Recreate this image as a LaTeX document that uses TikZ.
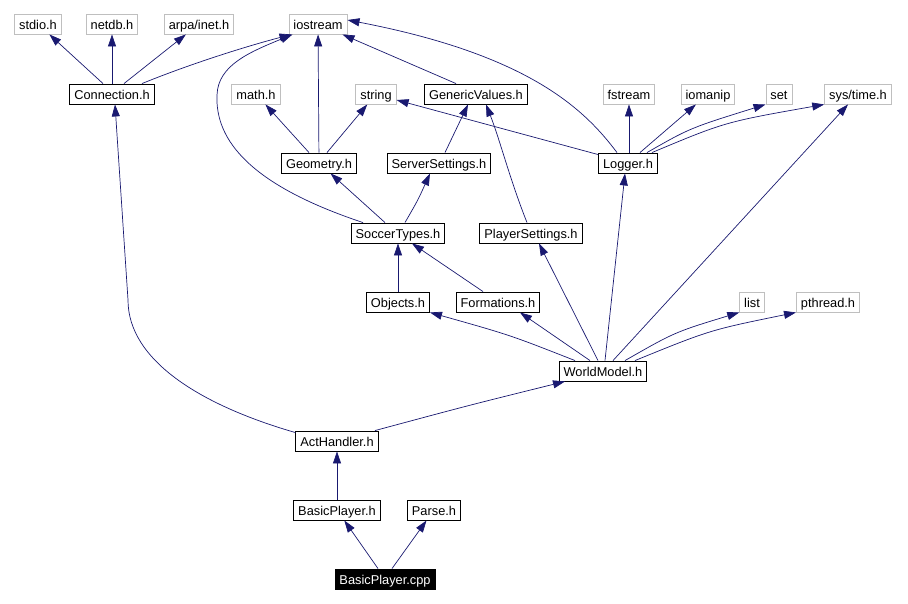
\documentclass[tikz,border=0pt]{standalone}
\usepackage{fontspec}
\setmainfont{Liberation Sans}
\usepackage{tikz}
\usetikzlibrary{arrows.meta, positioning}
\definecolor{midnight}{HTML}{191970}
\definecolor{extgray}{HTML}{BFBFBF}

\begin{document}
\begin{tikzpicture}[
  x=1pt, y=-1pt,
  font=\fontsize{12.8pt}{14pt}\selectfont,
  box/.style={draw=black, line width=0.9pt, fill=white, minimum height=20pt, text height=11.5pt, text depth=0.5pt, inner xsep=4.5pt, inner ysep=0pt, anchor=center},
  ext/.style={box, draw=extgray},
  root/.style={box, fill=black, text=white},
  dep/.style={-{Triangle[length=12pt, width=8pt]}, line width=0.7pt, midnight}
]
  \useasboundingbox (0,0) rectangle (908,603);

  \node[ext] (stdio) at (38,24) {stdio.h};
  \node[ext] (netdb) at (112,24) {netdb.h};
  \node[ext] (arpa) at (199,24) {arpa/inet.h};
  \node[ext] (ios) at (318,24) {iostream};

  \node[box] (conn) at (112,94) {Connection.h};
  \node[ext] (math) at (256,94) {math.h};
  \node[ext] (string) at (376,94) {string};
  \node[box] (gv) at (476,94) {GenericValues.h};
  \node[ext] (fstream) at (629,94) {fstream};
  \node[ext] (iomanip) at (708,94) {iomanip};
  \node[ext] (set) at (779,94) {set};
  \node[ext] (systime) at (858,94) {sys/time.h};

  \node[box] (geom) at (319,163) {Geometry.h};
  \node[box] (ss) at (439,163) {ServerSettings.h};
  \node[box] (log) at (628,163) {Logger.h};

  \node[box] (soccer) at (398,233) {SoccerTypes.h};
  \node[box] (ps) at (531,233) {PlayerSettings.h};

  \node[box] (obj) at (398,302) {Objects.h};
  \node[box] (form) at (498,302) {Formations.h};
  \node[ext] (list) at (752,302) {list};
  \node[ext] (pthread) at (828,302) {pthread.h};

  \node[box] (wm) at (603,371) {WorldModel.h};
  \node[box] (act) at (337,441) {ActHandler.h};
  \node[box] (bp) at (337,510) {BasicPlayer.h};
  \node[box] (parse) at (434,510) {Parse.h};
  \node[root] (cpp) at (385,579) {BasicPlayer.cpp};

  \draw[dep] ([xshift=-9pt]conn.north) -- (stdio);
  \draw[dep] (conn) -- (netdb);
  \draw[dep] ([xshift=12pt]conn.north) -- (arpa);
  \draw[dep] ([xshift=30pt]conn.north) .. controls (185,66) and (240,48) .. ([xshift=3pt]ios.south west);

  \draw[dep] ([xshift=-35pt]soccer.north) .. controls (250,185) and (215,140) .. (217,95)
    .. controls (218,65) and (250,52) .. ([xshift=4pt]ios.south west);
  \draw[dep] (geom) -- (ios);
  \draw[dep] ([xshift=-20pt]gv.north) -- ([xshift=-5pt]ios.south east);
  \draw[dep] ([xshift=-11pt]log.north) .. controls (585,110) and (530,55) .. ([yshift=4pt]ios.east);

  \draw[dep] ([xshift=-10pt]geom.north) -- (math);
  \draw[dep] ([xshift=8pt]geom.north) -- (string);
  \draw[dep] ([yshift=-2pt]log.north west) -- ([yshift=-6pt]string.east);

  \draw[dep] ([xshift=6pt]ss.north) -- ([xshift=-8pt]gv.south);
  \draw[dep] ([xshift=-4pt]ps.north) .. controls (510,180) and (500,140) .. ([xshift=10pt]gv.south);

  \draw[dep] ([xshift=1pt]log.north) -- ([xshift=0pt]fstream.south);
  \draw[dep] ([xshift=12pt]log.north) -- (iomanip);
  \draw[dep] ([xshift=19pt]log.north) .. controls (690,128) .. (set.south west);
  \draw[dep] ([xshift=24pt]log.north) .. controls (725,122) .. (systime.south west);

  \draw[dep] ([xshift=-13pt]soccer.north) -- (geom);
  \draw[dep] ([xshift=7pt]soccer.north) .. controls (418,200) .. ([xshift=-9pt]ss.south);
  \draw[dep] (obj) -- (soccer);
  \draw[dep] ([xshift=-15pt]form.north) -- ([xshift=14pt]soccer.south);

  \draw[dep] ([xshift=-28pt]wm.north) .. controls (510,335) .. (obj.south east);
  \draw[dep] ([xshift=-13pt]wm.north) -- ([xshift=22pt]form.south);
  \draw[dep] ([xshift=-5pt]wm.north) -- ([xshift=8pt]ps.south);
  \draw[dep] ([xshift=2pt]wm.north) -- ([xshift=-3pt]log.south);
  \draw[dep] ([xshift=10pt]wm.north) -- ([xshift=-10pt]systime.south);
  \draw[dep] ([xshift=22pt]wm.north) .. controls (675,332) .. (list.south west);
  \draw[dep] ([xshift=32pt]wm.north) .. controls (710,330) .. (pthread.south west);

  \draw[dep] ([yshift=-2pt]act.north west) .. controls (200,405) and (128,360) .. (128,300)
    -- ([xshift=3pt]conn.south);
  \draw[dep] ([xshift=38pt]act.north) .. controls (470,405) .. ([xshift=-38pt]wm.south);
  \draw[dep] (bp) -- (act);
  \draw[dep] ([xshift=-7pt]cpp.north) -- (bp);
  \draw[dep] ([xshift=7pt]cpp.north) -- (parse);
\end{tikzpicture}
\end{document}
